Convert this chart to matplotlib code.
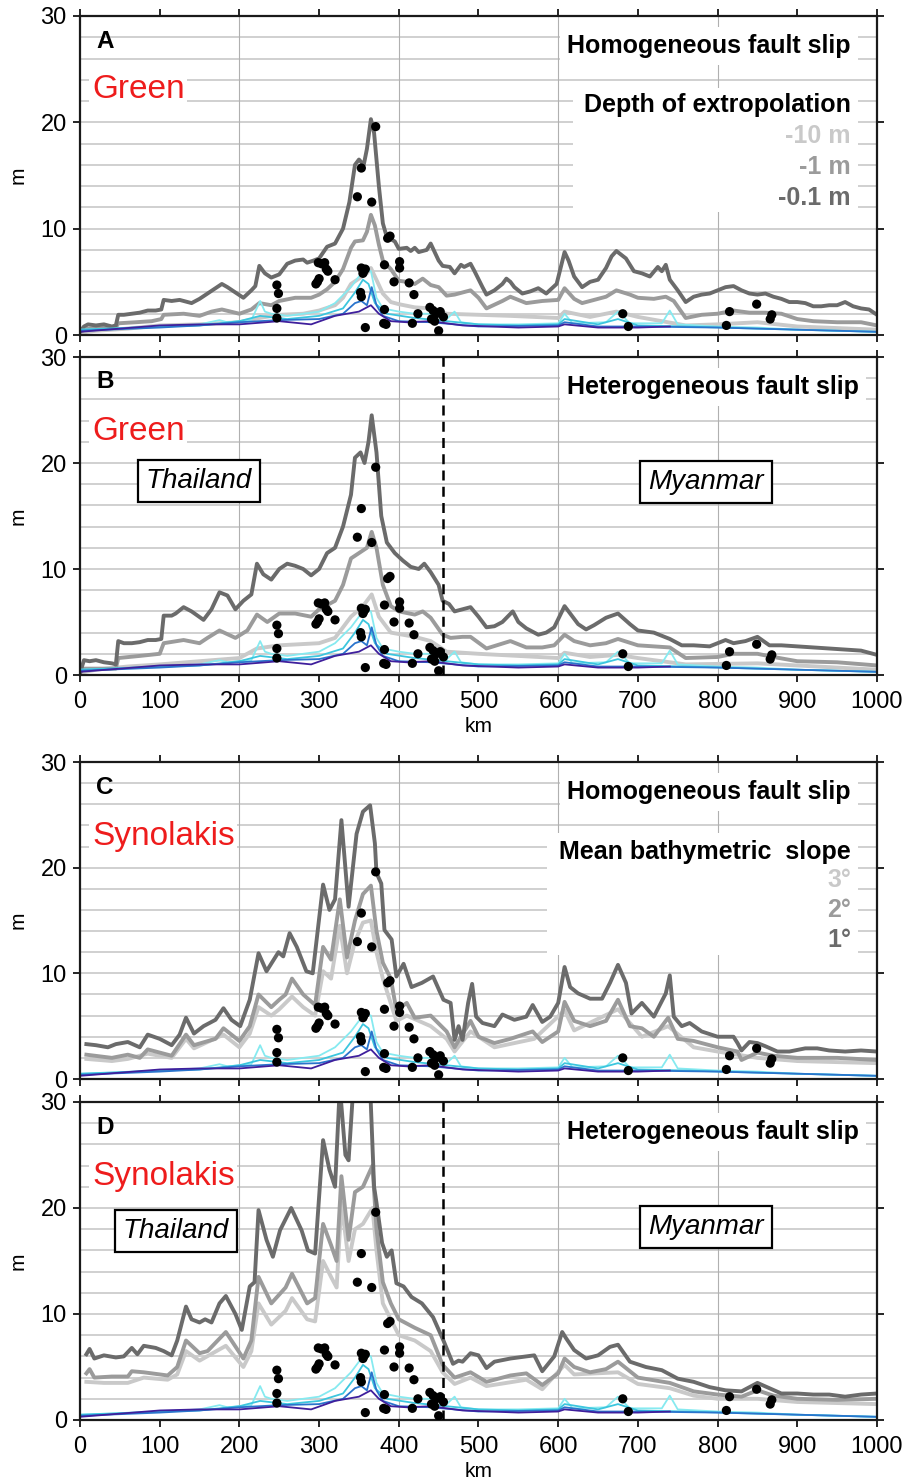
import numpy as np
import matplotlib
matplotlib.use("Agg")
import matplotlib.pyplot as plt
from matplotlib.patches import Rectangle

plt.rcParams['font.family'] = ['Liberation Sans', 'DejaVu Sans']

# ---------------------------------------------------------------- data
# run-up envelopes (km along coast, metres)
A_DARK = [(0,0.3),(5,0.8),(10,1.0),(20,0.9),(30,1.0),(40,0.8),(45,0.9),(48,1.9),(55,1.9),(65,2.0),(75,2.1),(85,2.3),(95,2.3),(102,2.4),(105,3.3),(115,3.2),(125,3.3),(140,3.0),(150,3.4),(160,3.9),(170,4.4),(178,4.8),(185,4.5),(195,4.0),(205,3.5),(215,4.2),(220,4.6),(225,6.5),(232,5.8),(240,5.4),(250,5.7),(260,6.7),(270,7.0),(280,7.1),(285,6.8),(293,7.0),(300,7.2),(310,8.3),(320,8.6),(330,10.0),(338,12.5),(345,16.0),(350,16.5),(356,16.0),(360,17.5),(365,20.3),(369,19.0),(375,14.0),(380,10.5),(385,9.2),(390,9.0),(395,8.8),(400,8.1),(410,8.2),(415,7.9),(420,8.2),(425,7.8),(430,7.9),(435,8.0),(440,8.6),(445,7.8),(450,7.0),(455,6.5),(464,6.4),(470,5.8),(478,6.6),(482,6.4),(490,6.7),(495,6.0),(505,4.5),(510,3.8),(520,4.2),(530,4.8),(535,5.3),(540,5.0),(545,4.5),(555,3.9),(565,4.1),(575,4.4),(585,3.9),(598,4.8),(608,7.8),(613,7.0),(620,5.5),(630,4.5),(640,5.0),(650,5.2),(660,6.3),(667,7.4),(673,7.9),(685,7.2),(695,6.0),(705,5.8),(715,5.5),(725,6.4),(730,6.0),(735,6.6),(740,5.2),(750,4.2),(760,3.1),(770,3.6),(780,3.8),(790,3.9),(800,4.2),(810,4.5),(820,4.6),(830,4.2),(840,3.9),(850,3.8),(860,3.9),(870,3.6),(880,3.4),(890,3.1),(900,3.1),(910,3.0),(920,2.7),(930,2.7),(940,2.8),(950,2.8),(960,3.1),(970,2.7),(980,2.5),(990,2.4),(1000,1.9)]
A_MID = [(0,0.3),(10,0.6),(45,0.7),(48,1.1),(70,1.2),(90,1.3),(102,1.5),(105,1.9),(130,2.0),(150,1.8),(165,2.2),(178,2.4),(200,2.0),(215,2.4),(225,3.0),(240,2.8),(250,3.2),(270,3.5),(290,3.5),(300,3.8),(310,4.3),(320,5.0),(330,6.2),(340,8.2),(345,8.8),(355,8.9),(360,9.7),(365,11.3),(370,10.3),(375,8.5),(380,7.0),(390,6.2),(400,5.1),(410,5.0),(420,4.8),(430,5.3),(440,4.7),(450,4.5),(460,3.7),(470,3.8),(490,4.2),(500,3.5),(510,2.5),(530,3.2),(540,3.6),(560,3.0),(580,3.2),(600,3.3),(608,4.4),(620,3.4),(630,3.0),(640,3.2),(660,3.6),(673,4.2),(690,3.8),(700,3.5),(720,3.4),(735,3.6),(745,3.2),(760,1.6),(780,1.9),(800,2.0),(820,2.3),(840,2.1),(860,2.1),(880,2.0),(900,1.5),(920,1.3),(950,1.2),(980,1.2),(1000,0.9)]
A_LIGHT = [(0,0.2),(20,0.4),(60,0.6),(100,0.9),(150,1.0),(200,1.2),(225,1.6),(250,1.9),(280,2.0),(300,2.3),(320,2.8),(330,3.5),(340,4.8),(350,5.3),(360,5.8),(365,6.3),(370,5.5),(380,3.9),(390,3.1),(400,2.9),(420,2.6),(440,2.5),(460,2.0),(500,1.9),(540,1.8),(600,1.6),(608,2.2),(640,1.7),(673,2.2),(700,1.7),(760,0.9),(800,1.0),(850,1.2),(900,0.8),(1000,0.5)]

B_DARK = [(0,0.2),(5,1.4),(12,1.3),(20,1.4),(30,1.2),(40,1.1),(45,1.0),(48,3.2),(55,3.0),(65,3.0),(75,3.1),(85,3.3),(95,3.3),(102,3.4),(105,5.6),(115,5.6),(120,5.8),(130,6.4),(140,6.0),(155,5.2),(165,6.2),(175,7.8),(185,7.5),(195,6.2),(205,7.0),(215,7.6),(222,10.5),(230,9.5),(240,9.0),(250,10.0),(260,10.5),(270,10.3),(280,10.0),(290,9.4),(300,10.0),(310,11.5),(320,12.0),(330,14.0),(340,17.0),(345,20.5),(352,21.0),(357,20.0),(362,22.0),(366,24.5),(372,21.0),(378,15.0),(385,12.5),(395,11.5),(405,10.8),(415,10.2),(425,10.0),(432,10.5),(440,9.7),(450,8.5),(455,7.0),(463,6.7),(470,6.0),(480,6.2),(490,6.4),(500,5.5),(510,4.5),(520,4.6),(530,5.0),(543,6.0),(550,5.0),(560,4.4),(575,3.8),(585,4.0),(595,4.5),(608,6.5),(615,5.8),(625,4.8),(635,4.3),(645,4.7),(660,5.4),(675,5.8),(690,4.8),(700,4.2),(720,4.0),(740,3.4),(755,2.8),(770,2.8),(790,2.7),(810,3.3),(820,3.0),(835,3.2),(850,3.6),(865,2.8),(880,2.8),(900,2.7),(920,2.6),(940,2.5),(960,2.4),(980,2.3),(1000,1.9)]
B_MID = [(0,0.2),(5,0.6),(45,0.6),(48,1.6),(75,1.8),(100,2.0),(105,3.0),(130,3.3),(150,3.0),(160,3.5),(175,4.2),(195,3.5),(210,4.2),(222,5.7),(235,5.0),(250,5.8),(270,5.8),(290,5.5),(300,6.2),(320,7.0),(330,8.5),(340,11.0),(350,11.5),(360,12.0),(366,13.5),(372,12.0),(380,8.5),(390,6.5),(400,6.0),(420,5.7),(430,6.0),(440,5.4),(455,3.8),(465,3.5),(480,3.6),(490,3.6),(510,2.5),(540,3.2),(560,2.6),(580,2.6),(595,2.8),(608,3.8),(620,3.2),(640,2.8),(660,3.0),(675,3.4),(700,2.8),(740,2.6),(760,1.6),(800,1.7),(820,2.0),(850,2.0),(870,1.7),(900,1.3),(950,1.2),(1000,0.9)]
B_LIGHT = [(0,0.2),(20,0.5),(60,0.8),(100,1.0),(150,1.3),(200,1.6),(222,2.5),(250,2.8),(300,3.0),(320,3.5),(340,5.5),(355,6.5),(366,7.6),(375,5.5),(390,4.0),(420,3.6),(440,3.2),(460,2.2),(500,2.0),(550,1.8),(600,1.6),(608,2.1),(640,1.7),(675,1.9),(700,1.6),(760,1.0),(850,1.1),(1000,0.5)]

C_DARK = [(8,3.3),(20,3.2),(35,3.0),(45,3.3),(60,3.5),(75,3.0),(85,4.2),(100,3.8),(115,3.2),(125,4.2),(133,5.8),(143,4.3),(155,5.0),(170,5.6),(180,6.7),(190,5.6),(201,5.0),(213,7.5),(224,11.9),(234,10.2),(249,12.0),(255,11.6),(263,13.8),(272,12.5),(284,10.2),(292,10.0),(305,18.4),(313,16.0),(320,17.0),(328,24.5),(337,16.3),(347,23.2),(355,25.3),(364,25.9),(370,22.3),(372,19.5),(378,18.5),(382,14.1),(391,13.2),(397,9.7),(406,10.9),(416,8.7),(429,9.1),(443,9.7),(456,7.5),(465,7.2),(470,3.7),(475,5.0),(480,3.7),(487,7.2),(492,9.0),(497,5.9),(505,5.3),(520,5.0),(530,6.1),(545,5.6),(560,5.9),(568,7.0),(580,5.4),(590,5.9),(600,7.2),(608,10.6),(615,8.7),(625,8.1),(640,7.6),(655,7.6),(665,9.1),(675,10.8),(685,9.1),(692,6.2),(705,7.2),(720,5.9),(735,8.1),(740,9.8),(745,5.9),(755,5.0),(765,5.3),(780,4.5),(800,4.0),(820,4.0),(825,3.4),(830,2.7),(840,3.5),(850,3.4),(860,3.1),(875,2.6),(890,2.6),(910,2.9),(925,2.9),(940,2.7),(960,2.6),(980,2.7),(1000,2.6)]
C_MID = [(8,2.3),(40,2.0),(60,2.3),(75,2.0),(85,2.8),(115,2.2),(133,4.2),(143,3.2),(170,3.8),(180,4.8),(200,3.6),(213,5.0),(224,8.0),(240,6.8),(250,7.5),(258,8.0),(266,9.5),(280,8.0),(295,7.0),(305,12.5),(315,11.3),(326,17.0),(335,11.5),(345,15.0),(355,17.5),(365,18.3),(372,14.0),(380,11.0),(390,9.5),(397,6.5),(410,7.2),(420,5.8),(440,6.0),(460,4.5),(470,3.0),(490,5.5),(500,4.0),(520,3.4),(540,3.8),(568,4.5),(580,3.5),(600,4.5),(608,7.3),(620,5.5),(640,5.0),(660,5.5),(675,7.5),(690,5.0),(705,4.8),(720,4.0),(738,5.8),(750,3.8),(770,3.6),(800,3.0),(825,2.6),(830,1.8),(850,2.5),(870,2.2),(900,2.0),(950,2.0),(1000,1.8)]
C_LIGHT = [(8,1.9),(40,1.7),(60,1.9),(85,2.4),(115,2.0),(133,3.8),(143,2.9),(180,4.2),(200,3.0),(213,4.3),(224,6.8),(240,6.0),(250,6.6),(266,7.8),(280,6.8),(295,6.0),(305,10.2),(315,9.5),(326,14.5),(335,10.0),(345,13.0),(355,14.8),(365,15.0),(372,12.0),(380,9.5),(397,5.5),(410,6.0),(440,5.0),(460,3.8),(470,2.6),(490,4.5),(520,3.0),(570,3.8),(608,6.5),(620,4.6),(675,6.6),(705,4.0),(738,5.0),(770,3.0),(800,2.6),(850,2.0),(900,1.7),(1000,1.5)]

D_DARK = [(8,6.2),(12,6.7),(18,5.8),(30,6.1),(45,5.9),(55,6.0),(65,6.8),(72,6.2),(80,7.0),(95,6.8),(105,6.5),(115,6.1),(122,7.5),(133,10.7),(140,9.5),(150,9.2),(157,9.5),(165,9.2),(175,11.0),(183,11.7),(195,10.0),(203,8.5),(213,12.6),(219,13.0),(224,19.8),(234,17.0),(242,15.4),(251,17.9),(265,20.0),(278,17.9),(286,16.0),(295,15.7),(305,26.4),(313,23.6),(320,22.0),(326,31.5),(333,25.0),(337,24.5),(343,31.5),(364,31.5),(369,22.0),(372,20.5),(379,16.7),(385,15.4),(391,16.0),(397,12.9),(406,12.6),(416,11.6),(429,11.0),(443,9.7),(456,7.5),(468,5.3),(475,5.6),(480,5.5),(490,6.3),(500,6.1),(510,4.9),(520,5.5),(540,5.8),(560,6.0),(570,6.1),(580,4.6),(595,6.0),(605,8.3),(610,7.7),(620,6.6),(635,5.8),(650,6.1),(665,6.9),(675,7.1),(690,5.5),(710,5.0),(730,4.7),(750,3.9),(770,3.6),(790,3.1),(810,2.8),(830,2.7),(850,3.5),(865,3.0),(880,2.5),(900,2.5),(920,2.4),(940,2.4),(960,2.2),(980,2.4),(1000,2.5)]
D_MID = [(8,4.4),(12,4.8),(18,4.0),(40,4.1),(60,4.1),(65,4.6),(80,4.5),(110,4.2),(122,5.0),(133,7.5),(150,6.3),(160,6.5),(183,8.3),(205,5.8),(215,7.5),(224,13.5),(240,11.0),(258,12.5),(266,13.8),(285,11.0),(295,11.5),(305,18.5),(315,16.5),(322,15.0),(328,23.0),(337,17.0),(345,21.5),(355,22.0),(367,24.0),(372,18.0),(380,13.0),(390,11.0),(400,9.5),(420,8.7),(440,8.0),(455,5.2),(470,4.0),(490,4.5),(510,3.6),(540,4.2),(560,4.4),(580,3.3),(600,4.4),(608,5.8),(620,5.0),(640,4.5),(660,4.8),(675,5.5),(700,4.0),(740,3.5),(770,2.7),(800,2.4),(830,2.2),(850,2.8),(870,2.3),(900,2.0),(950,1.9),(1000,2.0)]
D_LIGHT = [(8,3.6),(30,3.5),(60,3.5),(80,4.0),(110,3.8),(122,4.3),(133,6.5),(150,5.6),(183,7.0),(205,5.0),(215,6.5),(224,11.0),(240,9.0),(258,10.3),(266,11.5),(285,9.5),(295,9.3),(305,15.0),(315,13.5),(322,12.5),(328,20.5),(337,15.0),(345,18.0),(355,18.5),(367,20.0),(372,16.0),(380,11.0),(400,8.0),(420,7.5),(440,6.5),(455,4.5),(470,3.4),(490,4.0),(510,3.2),(560,3.8),(580,2.9),(608,5.2),(620,4.3),(675,4.5),(700,3.4),(740,3.0),(770,2.3),(800,2.0),(850,2.0),(900,1.7),(1000,1.5)]

# reference model curves shared by all panels
CYAN = [(0,0.5),(50,0.6),(100,0.8),(150,1.0),(175,1.4),(185,1.2),(200,1.3),(215,1.4),(226,3.2),(232,2.2),(240,2.0),(260,1.8),(280,2.0),(300,2.2),(320,3.0),(340,4.5),(350,5.5),(358,6.2),(365,6.0),(372,3.5),(380,2.5),(400,2.2),(420,2.0),(440,2.0),(460,1.5),(470,2.2),(478,1.2),(500,1.0),(550,1.0),(600,1.1),(608,2.0),(618,1.1),(660,1.2),(675,2.2),(690,1.1),(730,1.1),(740,2.3),(750,1.0),(800,0.8),(850,0.7),(900,0.5),(1000,0.3)]
TURQUOISE = [(0,0.5),(100,0.8),(150,0.9),(200,1.3),(226,1.8),(260,1.5),(300,1.8),(330,2.5),(345,4.0),(355,5.2),(362,4.8),(370,3.0),(385,2.0),(420,1.6),(460,1.3),(500,1.0),(550,0.9),(600,1.0),(608,1.5),(650,1.0),(675,1.5),(700,0.9),(760,0.8),(850,0.6),(1000,0.3)]
BLUE = [(0,0.4),(100,0.7),(150,0.9),(200,1.2),(250,1.4),(300,1.5),(330,2.0),(345,3.0),(353,3.2),(360,2.8),(366,4.5),(372,2.8),(380,1.8),(400,1.3),(440,1.2),(500,0.8),(600,0.9),(608,1.2),(650,0.8),(700,0.8),(800,0.7),(900,0.5),(1000,0.3)]
PURPLE = [(0,0.3),(100,0.9),(150,1.0),(200,1.0),(250,1.3),(290,1.0),(320,1.8),(350,2.2),(365,2.8),(375,2.0),(390,1.3),(410,1.2),(440,1.3),(480,0.9),(550,0.7),(600,0.8),(608,1.0),(650,0.7),(700,0.7),(740,0.8)]

# field survey points
OBS_KM = [247,249,247,247,299,303,307,309,311,298,300,296,320,353,348,366,371,353,356,358,355,352,353,358,382,386,389,401,401,394,413,419,382,384,381,417,424,439,443,447,441,445,452,456,450,681,688,811,815,849,866,868]
OBS_M = [4.7,3.9,2.5,1.6,6.8,6.7,6.8,6.2,6.0,5.0,5.3,4.8,5.2,15.7,13.0,12.5,19.6,6.3,6.0,6.2,5.8,4.0,3.6,0.7,6.6,9.1,9.3,6.9,6.3,5.0,4.9,3.8,2.4,1.0,1.1,1.1,2.0,2.6,2.3,2.0,1.5,1.3,2.2,1.7,0.4,2.0,0.8,0.9,2.2,2.9,1.5,1.9]

PANEL_LETTERS = ["A", "B", "C", "D"]
METHODS = ["Green", "Green", "Synolakis", "Synolakis"]
SLIP = ["Homogeneous fault slip", "Heterogeneous fault slip",
        "Homogeneous fault slip", "Heterogeneous fault slip"]
DEPTH_LABELS = ["-10 m", "-1 m", "-0.1 m"]
SLOPE_LABELS = ["3°", "2°", "1°"]
BORDER_KM = 455
X_TICKS = list(range(0, 1001, 100))
Y_TICKS = [0, 10, 20, 30]

GRAYS = ["#c9c9c9", "#9b9b9b", "#6b6b6b"]   # light, mid, dark
COLOURED = [(CYAN, "#86eaf0"), (TURQUOISE, "#3cc6de"), (BLUE, "#2a74cc"), (PURPLE, "#3f1f9c")]
PANELS = [(A_LIGHT, A_MID, A_DARK), (B_LIGHT, B_MID, B_DARK),
          (C_LIGHT, C_MID, C_DARK), (D_LIGHT, D_MID, D_DARK)]

# ---------------------------------------------------------------- figure
W, H = 904, 1483
fig = plt.figure(figsize=(W / 100, H / 100), dpi=100)


def fx(px):
    return px / W


def fy(py):
    return 1 - py / H


def xy(series):
    arr = np.array(series, dtype=float)
    return arr[:, 0], arr[:, 1]


# (top, bottom) pixel rows of each panel
ROWS = [(16, 335), (357, 675), (762, 1079), (1102, 1420)]
LEFT, RIGHT = 80, 877

for i, (top, bottom) in enumerate(ROWS):
    ax = fig.add_axes([fx(LEFT), fy(bottom), fx(RIGHT - LEFT), (bottom - top) / H])
    ax.set_xlim(0, 1000)
    ax.set_ylim(0, 30)

    for g in np.arange(2, 30, 2):
        ax.axhline(g, color="#cdcdcd", lw=1.3, zorder=0.5)
    for v in (200, 400, 600, 800):
        ax.axvline(v, color="#b0b0b0", lw=0.8, zorder=0.6)

    for series, col in zip(PANELS[i], GRAYS):
        x, y = xy(series)
        ax.plot(x, y, color=col, lw=2.8, solid_joinstyle="round", zorder=2)
    for series, col in COLOURED:
        x, y = xy(series)
        ax.plot(x, y, color=col, lw=1.3, zorder=2.2)

    ax.scatter(OBS_KM, OBS_M, s=44, color="black", edgecolors="none", zorder=4)

    if i in (1, 3):
        ax.axvline(BORDER_KM, color="black", lw=1.8, ls=(0, (4, 2.5)), zorder=3.5)

    ax.set_xticks(X_TICKS)
    ax.set_yticks(Y_TICKS)
    ax.tick_params(axis="both", direction="out", length=5, width=1.2,
                   top=True, right=True, labelsize=17, colors="black")
    ax.tick_params(axis="y", pad=4.5)
    ax.tick_params(axis="x", pad=6.5)
    if i in (1, 3):
        ax.set_xlabel("km", fontsize=15, labelpad=3)
    else:
        ax.tick_params(axis="x", labelbottom=False)
    ax.set_ylabel("m", fontsize=15, labelpad=9)
    for sp in ax.spines.values():
        sp.set_linewidth(1.6)
        sp.set_color("#1a1a1a")

    T = fig.transFigure
    white = dict(facecolor="white", edgecolor="none", pad=2)
    ax.text(fx(96), fy(top + 25), PANEL_LETTERS[i], transform=T, fontsize=17.5,
            fontweight="bold", va="center", ha="left", zorder=5)
    ax.text(fx(92), fy(top + 74), METHODS[i], transform=T, fontsize=24,
            color="#ee1c1c", va="center", ha="left", bbox=white, zorder=5)
    right_edge = 851 if i % 2 == 0 else 859
    ax.text(fx(right_edge), fy(top + 30), SLIP[i], transform=T, fontsize=18,
            fontweight="bold", va="center", ha="right",
            bbox=dict(facecolor="white", edgecolor="none", pad=5), zorder=5)

    if i == 0:
        ax.add_patch(Rectangle((fx(573), fy(212)), fx(858 - 573), (212 - 88) / H,
                               transform=T, facecolor="white", edgecolor="none", zorder=1.5))
        ax.text(fx(851), fy(top + 89), "Depth of extropolation", transform=T,
                fontsize=18, fontweight="bold", va="center", ha="right", zorder=5)
        for k, (lab, col) in enumerate(zip(DEPTH_LABELS, GRAYS)):
            ax.text(fx(851), fy(top + 120 + 31 * k), lab, transform=T, fontsize=18,
                    fontweight="bold", color=col, va="center", ha="right", zorder=5)
    if i == 2:
        ax.add_patch(Rectangle((fx(547), fy(955)), fx(858 - 547), (955 - 833) / H,
                               transform=T, facecolor="white", edgecolor="none", zorder=1.5))
        ax.text(fx(851), fy(top + 90), "Mean bathymetric  slope", transform=T,
                fontsize=18, fontweight="bold", va="center", ha="right", zorder=5)
        for k, (lab, col) in enumerate(zip(SLOPE_LABELS, GRAYS)):
            ax.text(fx(851), fy(top + 118 + 30 * k), lab, transform=T, fontsize=18,
                    fontweight="bold", color=col, va="center", ha="right", zorder=5)
    if i in (1, 3):
        box = dict(boxstyle="square,pad=0.3", facecolor="white", edgecolor="black", lw=1.6)
        tx = 199 if i == 1 else 176
        ty = top + (124 if i == 1 else 129)
        ax.text(fx(tx), fy(ty), "Thailand", transform=T, fontsize=20, style="italic",
                va="center", ha="center", bbox=box, zorder=5)
        ax.text(fx(706), fy(top + 125), "Myanmar", transform=T, fontsize=20, style="italic",
                va="center", ha="center", bbox=box, zorder=5)

fig.savefig("out.png", dpi=100)
